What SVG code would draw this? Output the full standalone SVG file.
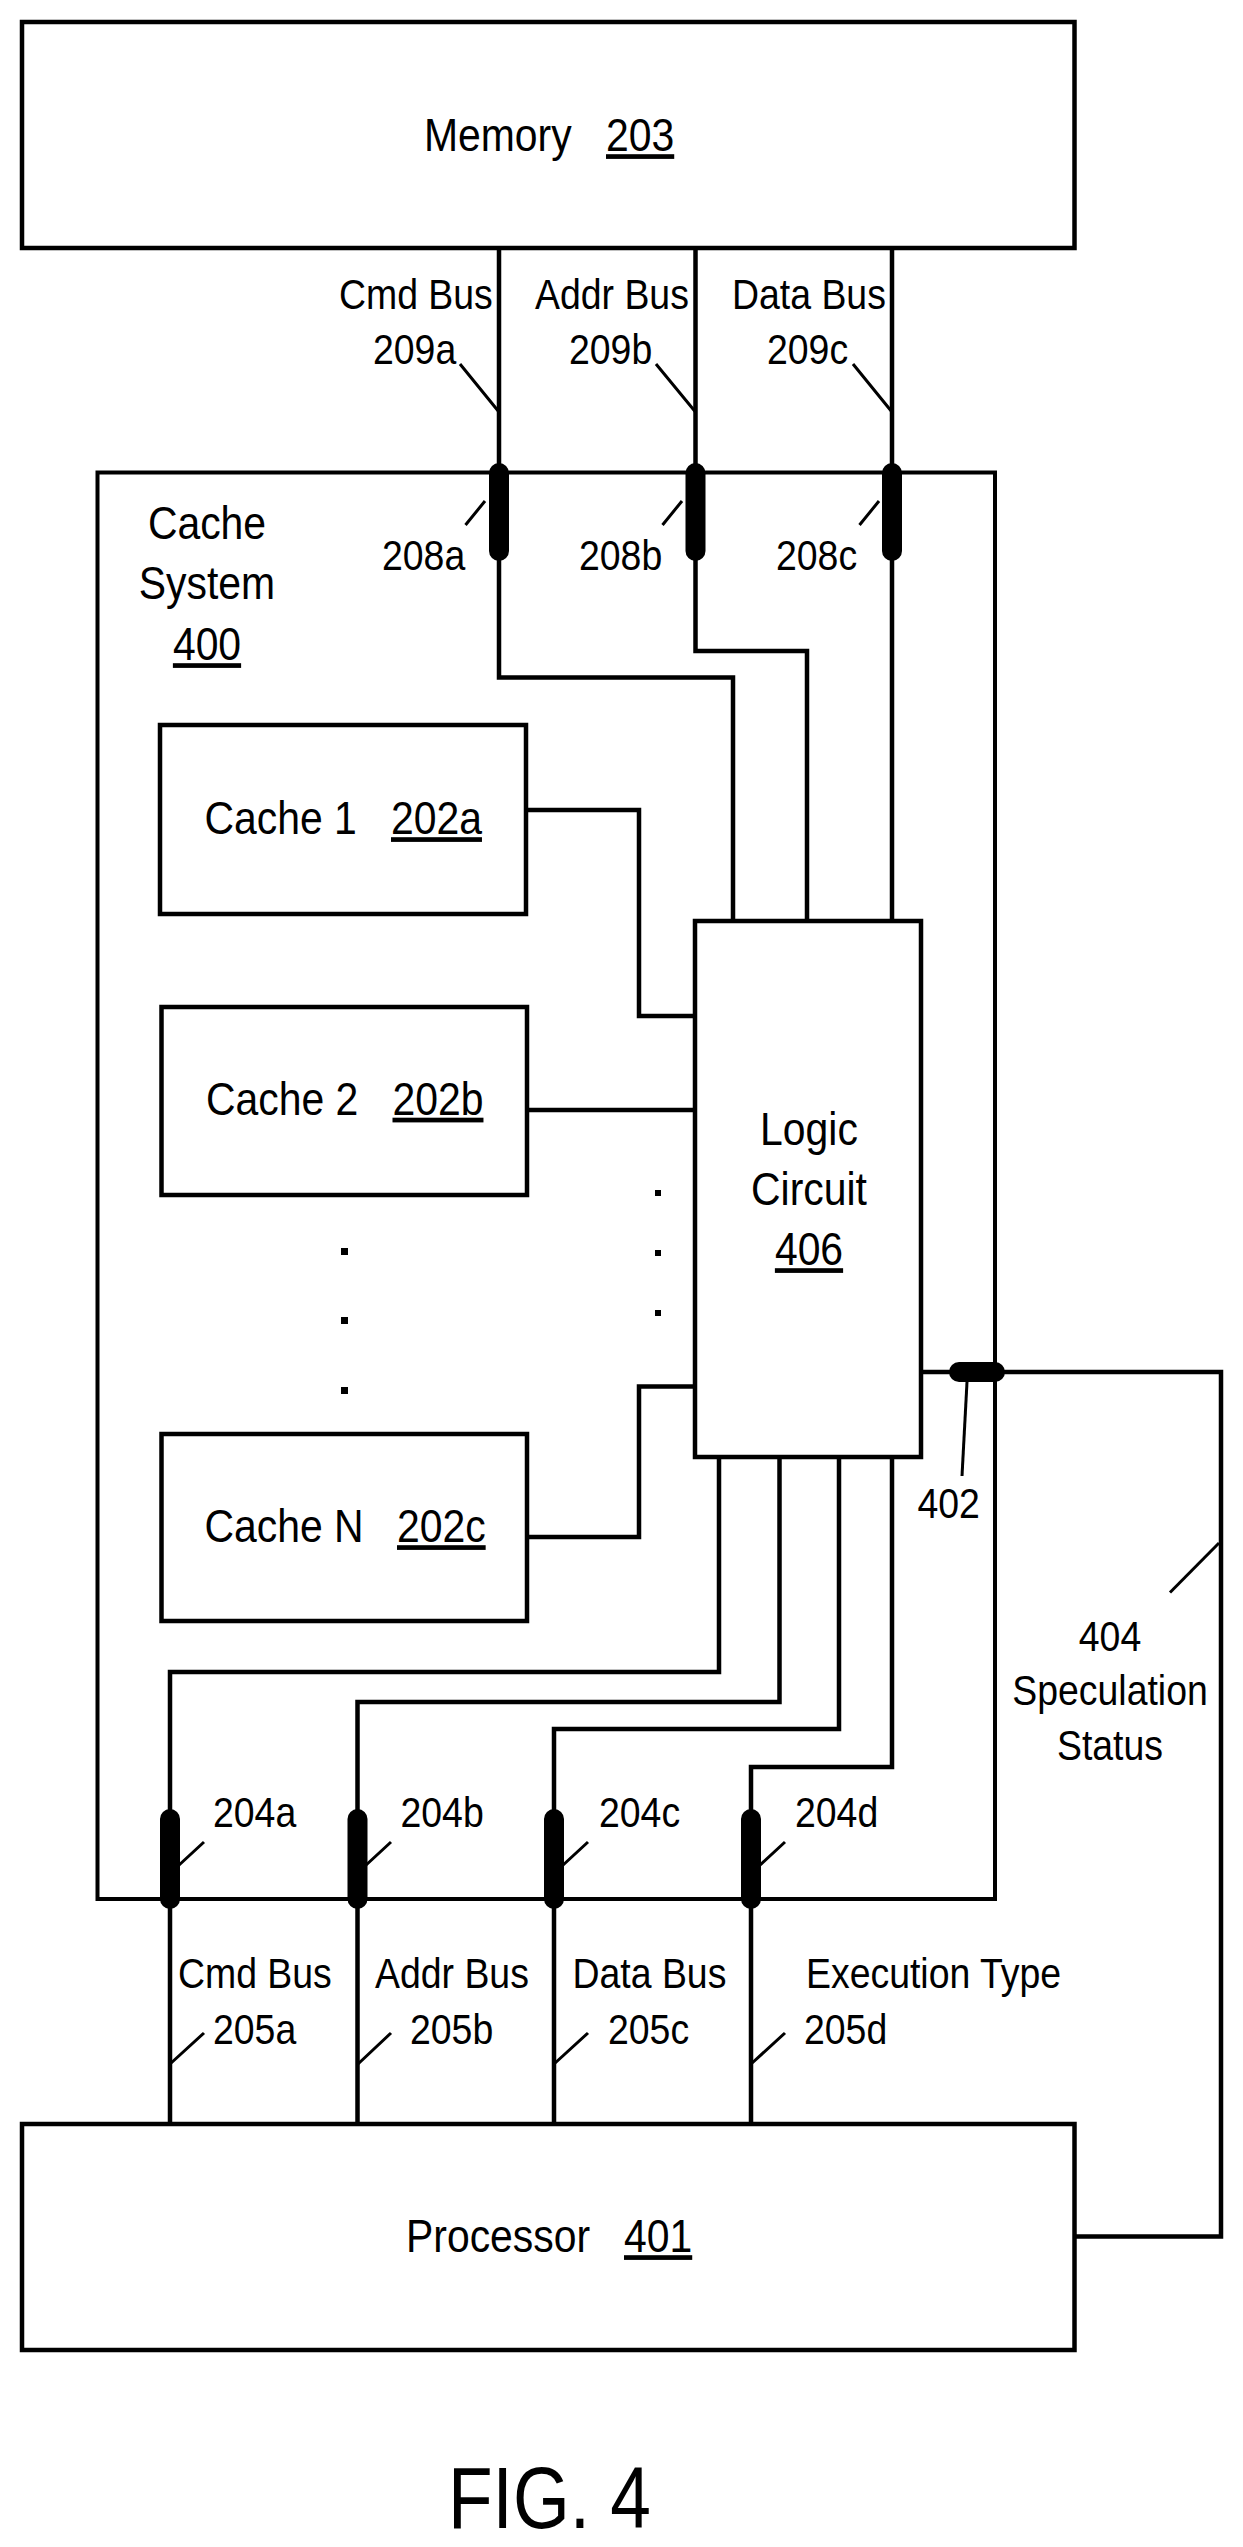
<svg xmlns="http://www.w3.org/2000/svg" width="1243" height="2547" viewBox="0 0 1243 2547">
<style>
.box{fill:#fff;stroke:#000;stroke-width:4.5}
.frame{fill:none;stroke:#000;stroke-width:4}
.w{fill:none;stroke:#000;stroke-width:4.5;stroke-linejoin:miter}
.l{fill:none;stroke:#000;stroke-width:3}
.s{fill:none;stroke:#000;stroke-width:20;stroke-linecap:round}
text{font-family:"Liberation Sans",Arial,sans-serif;fill:#000}
.b{font-size:47px}
.m{font-size:43px}
.f{font-size:88px}
.u{text-decoration:underline}
.c{text-anchor:middle}
</style>
<rect width="1243" height="2547" fill="#fff"/>
<g id="cache-system">
<rect class="frame" x="97.5" y="472.5" width="897.5" height="426.5" style="stroke:none"/>
<rect class="frame" x="97.5" y="472.5" width="897.5" height="1426.5"/>
<text class="b c" transform="translate(207 539) scale(.87 1)">Cache</text>
<text class="b c" transform="translate(207 599) scale(.87 1)">System</text>
<text class="b c u" transform="translate(207 660) scale(.87 1)">400</text>
</g>
<g id="connectors">
<path class="w" d="M499 248V677.5H733V921"/>
<path class="w" d="M695.5 248V651H807V921"/>
<path class="w" d="M892 248V921"/>
<path class="w" d="M526 810H639V1016H695"/>
<path class="w" d="M527 1110H695"/>
<path class="w" d="M527 1537H639V1386.5H695"/>
<path class="w" d="M719 1457V1672H170V2124"/>
<path class="w" d="M779.5 1457V1702H357.5V2124"/>
<path class="w" d="M839 1457V1729H554V2124"/>
<path class="w" d="M892 1457V1767H751V2124"/>
<path class="w" d="M921 1372H1221V2236.5H1074"/>
<path class="s" d="M499 473V551M695.5 473V551M892 473V551"/>
<path class="s" d="M170 1819V1899M357.5 1819V1899M554 1819V1899M751 1819V1899"/>
<path class="s" d="M959 1372H995"/>
<path class="l" d="M460 364L499 412M656 364L695.5 412M853 364L892 412"/>
<path class="l" d="M485 501L465.5 525M682 501L662.5 525M879 501L859.5 525"/>
<path class="l" d="M178 1866L204 1842M365 1866L391 1842M562 1866L588 1842M759 1866L785 1842"/>
<path class="l" d="M170 2064L204 2033M358 2064L391 2033M554 2064L588 2033M751 2064L785 2033"/>
<path class="l" d="M967 1382L962 1476"/>
<path class="l" d="M1219 1543L1170 1592.5"/>
</g>
<g id="memory">
<rect class="box" x="22" y="22" width="1052.5" height="226"/>
<text class="b" transform="translate(424 151) scale(.87 1)">Memory</text>
<text class="b u" transform="translate(606 151) scale(.87 1)">203</text>
</g>
<g id="cache-1">
<rect class="box" x="160" y="725" width="366" height="189"/>
<text class="b" transform="translate(204.5 834) scale(.87 1)">Cache 1</text>
<text class="b u" transform="translate(391 834) scale(.87 1)">202a</text>
</g>
<g id="cache-2">
<rect class="box" x="161.5" y="1007" width="365.5" height="188"/>
<text class="b" transform="translate(206 1114.5) scale(.87 1)">Cache 2</text>
<text class="b u" transform="translate(392.5 1114.5) scale(.87 1)">202b</text>
</g>
<g id="cache-n">
<rect class="box" x="161.5" y="1434" width="365.5" height="187"/>
<text class="b" transform="translate(204.5 1542) scale(.87 1)">Cache N</text>
<text class="b u" transform="translate(397 1542) scale(.87 1)">202c</text>
</g>
<g id="logic-circuit">
<rect class="box" x="695" y="921" width="226" height="536"/>
<text class="b c" transform="translate(809 1145) scale(.87 1)">Logic</text>
<text class="b c" transform="translate(809 1205) scale(.87 1)">Circuit</text>
<text class="b c u" transform="translate(809 1265) scale(.87 1)">406</text>
</g>
<g id="processor">
<rect class="box" x="22" y="2124" width="1052.5" height="226"/>
<text class="b" transform="translate(406 2252) scale(.87 1)">Processor</text>
<text class="b u" transform="translate(624 2252) scale(.87 1)">401</text>
</g>
<g id="dots">
<rect x="341" y="1248" width="7" height="7"/>
<rect x="341" y="1317" width="7" height="7"/>
<rect x="341" y="1387" width="7" height="7"/>
<rect x="655" y="1190" width="6" height="6"/>
<rect x="655" y="1250" width="6" height="6"/>
<rect x="655" y="1310" width="6" height="6"/>
</g>
<g id="labels">
<text class="m" transform="translate(339 309) scale(.87 1)">Cmd Bus</text>
<text class="m" transform="translate(535 309) scale(.87 1)">Addr Bus</text>
<text class="m" transform="translate(732 309) scale(.87 1)">Data Bus</text>
<text class="m" transform="translate(373 364) scale(.87 1)">209a</text>
<text class="m" transform="translate(569 364) scale(.87 1)">209b</text>
<text class="m" transform="translate(767 364) scale(.87 1)">209c</text>
<text class="m" transform="translate(382 570) scale(.87 1)">208a</text>
<text class="m" transform="translate(579 570) scale(.87 1)">208b</text>
<text class="m" transform="translate(776 570) scale(.87 1)">208c</text>
<text class="m" transform="translate(917.5 1518) scale(.87 1)">402</text>
<text class="m c" transform="translate(1110 1650.5) scale(.87 1)">404</text>
<text class="m c" transform="translate(1110 1705) scale(.87 1)">Speculation</text>
<text class="m c" transform="translate(1110 1760) scale(.87 1)">Status</text>
<text class="m" transform="translate(213 1827) scale(.87 1)">204a</text>
<text class="m" transform="translate(400.5 1827) scale(.87 1)">204b</text>
<text class="m" transform="translate(599 1827) scale(.87 1)">204c</text>
<text class="m" transform="translate(795 1827) scale(.87 1)">204d</text>
<text class="m" transform="translate(178 1988) scale(.87 1)">Cmd Bus</text>
<text class="m" transform="translate(375 1988) scale(.87 1)">Addr Bus</text>
<text class="m" transform="translate(572.5 1988) scale(.87 1)">Data Bus</text>
<text class="m" transform="translate(806 1988) scale(.87 1)">Execution Type</text>
<text class="m" transform="translate(213 2044) scale(.87 1)">205a</text>
<text class="m" transform="translate(410 2044) scale(.87 1)">205b</text>
<text class="m" transform="translate(608 2044) scale(.87 1)">205c</text>
<text class="m" transform="translate(804 2044) scale(.87 1)">205d</text>
<text class="f" transform="translate(448 2528) scale(.83 1)">FIG. 4</text>
</g>
</svg>
